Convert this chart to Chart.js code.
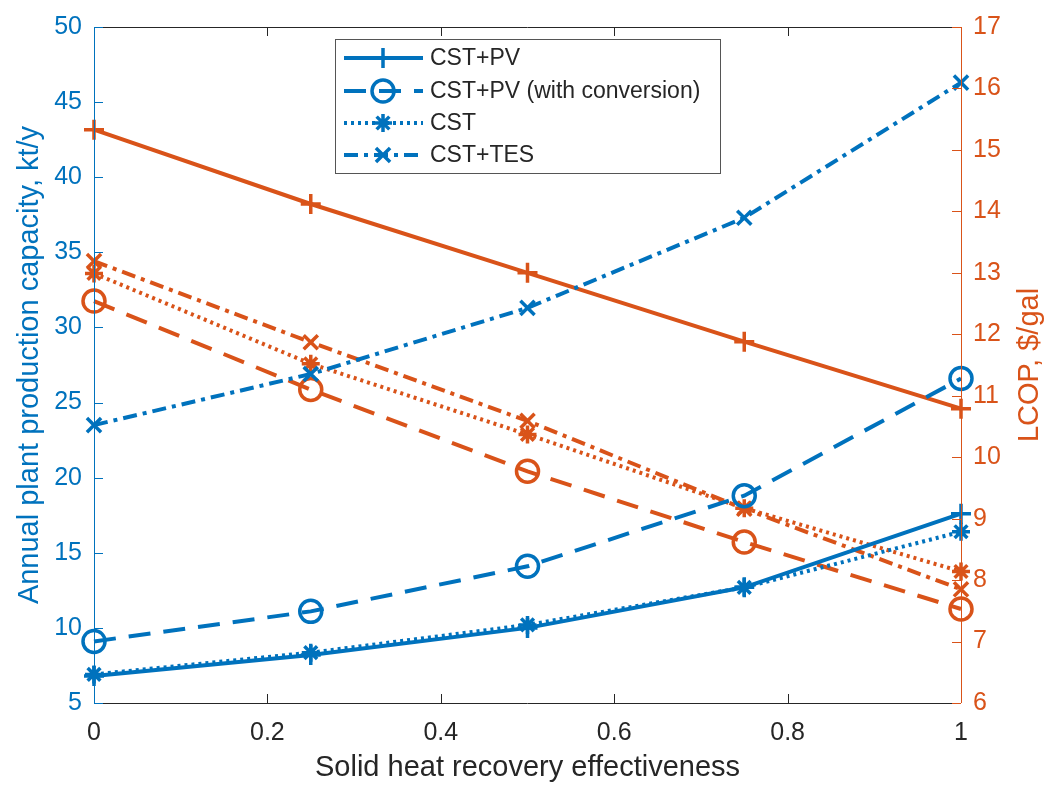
<!DOCTYPE html>
<html>
<head>
<meta charset="utf-8">
<script src="https://cdn.jsdelivr.net/npm/chart.js@4/dist/chart.umd.min.js"></script>
<style>
  body { margin: 0; background: #fff; }
  #wrap { width: 1046px; height: 787px; position: relative; }
</style>
</head>
<body>
<div id="wrap"><canvas id="chart"></canvas></div>
<script>
// --- DATA ---
const effectiveness = [0, 0.25, 0.5, 0.75, 1];
const seriesNames = ["CST+PV", "CST+PV (with conversion)", "CST", "CST+TES"];

// annual plant production capacity, kt/y (left axis)
const capPV     = [6.8, 8.2, 10.0, 12.7, 17.6];
const capPVconv = [9.1, 11.1, 14.1, 18.8, 26.6];
const capCST    = [6.9, 8.35, 10.2, 12.7, 16.4];
const capTES    = [23.5, 26.9, 31.3, 37.3, 46.3];

// LCOP, $/gal (right axis)
const lcopPV     = [15.33, 14.12, 13.0, 11.88, 10.79];
const lcopPVconv = [12.54, 11.1, 9.77, 8.62, 7.53];
const lcopCST    = [12.99, 11.52, 10.37, 9.17, 8.14];
const lcopTES    = [13.19, 11.87, 10.59, 9.16, 7.85];

const leftTicks = [5, 10, 15, 20, 25, 30, 35, 40, 45, 50];
const rightTicks = [6, 7, 8, 9, 10, 11, 12, 13, 14, 15, 16, 17];

const BLUE = "#0072BD";
const ORANGE = "#D95319";
const DARK = "#262626";
const FONT = "'Liberation Sans', Arial, Helvetica, sans-serif";
const RIGHT_TITLE = "LCOP, $/gal";

// line / marker style per series (same order as seriesNames)
const styles = [
  { dash: [], marker: "cross", radius: 10 },
  { dash: [22, 13], marker: "circle", radius: 11 },
  { dash: [3, 4], marker: "star", radius: 9 },
  { dash: [14, 6, 4, 6], marker: "crossRot", radius: 10 }
];

function pts(values) {
  return effectiveness.map((x, i) => ({ x, y: values[i] }));
}

function makeSet(label, values, color, st, axis, inLegend) {
  const hollow = st.marker === "circle";
  return {
    label,
    data: pts(values),
    yAxisID: axis,
    borderColor: color,
    backgroundColor: hollow ? "rgba(0,0,0,0)" : color,
    borderWidth: 4,
    borderDash: st.dash,
    pointStyle: st.marker,
    pointRadius: st.radius,
    pointBorderWidth: 3.5,
    pointBorderColor: color,
    pointBackgroundColor: hollow ? "rgba(0,0,0,0)" : color,
    tension: 0,
    clip: false,
    inLegend
  };
}

const datasets = [
  makeSet(seriesNames[0], capPV, BLUE, styles[0], "y", true),
  makeSet(seriesNames[1], capPVconv, BLUE, styles[1], "y", true),
  makeSet(seriesNames[2], capCST, BLUE, styles[2], "y", true),
  makeSet(seriesNames[3], capTES, BLUE, styles[3], "y", true),
  makeSet(seriesNames[0], lcopPV, ORANGE, styles[0], "y1", false),
  makeSet(seriesNames[1], lcopPVconv, ORANGE, styles[1], "y1", false),
  makeSet(seriesNames[2], lcopCST, ORANGE, styles[2], "y1", false),
  makeSet(seriesNames[3], lcopTES, ORANGE, styles[3], "y1", false)
];

// small marker drawer for the legend
function drawMarker(ctx, style, x, y, r, color) {
  ctx.save();
  ctx.strokeStyle = color;
  ctx.lineWidth = 3.5;
  ctx.setLineDash([]);
  ctx.beginPath();
  if (style === "circle") {
    ctx.arc(x, y, r, 0, Math.PI * 2);
  } else {
    if (style === "cross" || style === "star") {
      ctx.moveTo(x - r, y); ctx.lineTo(x + r, y);
      ctx.moveTo(x, y - r); ctx.lineTo(x, y + r);
    }
    if (style === "crossRot" || style === "star") {
      const d = r * Math.SQRT1_2;
      ctx.moveTo(x - d, y - d); ctx.lineTo(x + d, y + d);
      ctx.moveTo(x - d, y + d); ctx.lineTo(x + d, y - d);
    }
  }
  ctx.stroke();
  ctx.restore();
}

// box + inward ticks, MATLAB style, and the right-hand title reading upward
const framePlugin = {
  id: "frame",
  afterDatasetsDraw(chart) {
    const { ctx, chartArea: a, scales } = chart;
    const tl = 9;
    ctx.save();
    ctx.lineWidth = 1;
    ctx.setLineDash([]);

    ctx.strokeStyle = DARK;
    ctx.beginPath();
    ctx.moveTo(a.left, a.top + 0.5); ctx.lineTo(a.right, a.top + 0.5);
    ctx.moveTo(a.left, a.bottom + 0.5); ctx.lineTo(a.right, a.bottom + 0.5);
    scales.x.ticks.forEach(t => {
      const px = Math.round(scales.x.getPixelForValue(t.value)) + 0.5;
      ctx.moveTo(px, a.bottom); ctx.lineTo(px, a.bottom - tl);
      ctx.moveTo(px, a.top); ctx.lineTo(px, a.top + tl);
    });
    ctx.stroke();

    ctx.strokeStyle = BLUE;
    ctx.beginPath();
    ctx.moveTo(a.left + 0.5, a.top); ctx.lineTo(a.left + 0.5, a.bottom);
    scales.y.ticks.forEach(t => {
      const py = Math.round(scales.y.getPixelForValue(t.value)) + 0.5;
      ctx.moveTo(a.left, py); ctx.lineTo(a.left + tl, py);
    });
    ctx.stroke();

    ctx.strokeStyle = ORANGE;
    ctx.beginPath();
    ctx.moveTo(a.right + 0.5, a.top); ctx.lineTo(a.right + 0.5, a.bottom);
    scales.y1.ticks.forEach(t => {
      const py = Math.round(scales.y1.getPixelForValue(t.value)) + 0.5;
      ctx.moveTo(a.right, py); ctx.lineTo(a.right - tl, py);
    });
    ctx.stroke();

    // right axis title
    ctx.translate(1030, (a.top + a.bottom) / 2);
    ctx.rotate(-Math.PI / 2);
    ctx.fillStyle = ORANGE;
    ctx.font = "29px " + FONT;
    ctx.textAlign = "center";
    ctx.textBaseline = "middle";
    ctx.fillText(RIGHT_TITLE, 0, 0);
    ctx.restore();
  }
};

// legend box inside the axes (blue series only)
const legendPlugin = {
  id: "innerLegend",
  afterDraw(chart) {
    const ctx = chart.ctx;
    const box = { left: 335, top: 39, right: 720, bottom: 173 };
    const rowY = [58, 91, 123, 155];
    ctx.save();
    ctx.fillStyle = "#fff";
    ctx.fillRect(box.left, box.top, box.right - box.left, box.bottom - box.top);
    ctx.strokeStyle = "#555";
    ctx.lineWidth = 1;
    ctx.strokeRect(box.left + 0.5, box.top + 0.5, box.right - box.left, box.bottom - box.top);

    const legendSets = chart.data.datasets.filter(d => d.inLegend);
    legendSets.forEach((ds, i) => {
      const y = rowY[i];
      ctx.strokeStyle = ds.borderColor;
      ctx.lineWidth = 4;
      ctx.setLineDash(ds.borderDash);
      ctx.beginPath();
      ctx.moveTo(344, y); ctx.lineTo(423, y);
      ctx.stroke();
      drawMarker(ctx, ds.pointStyle, 383, y, ds.pointRadius, ds.borderColor);
      ctx.fillStyle = DARK;
      ctx.font = "23px " + FONT;
      ctx.textBaseline = "middle";
      ctx.textAlign = "left";
      ctx.fillText(ds.label, 430, y + 1);
    });
    ctx.restore();
  }
};

new Chart(document.getElementById("chart"), {
  type: "line",
  data: { datasets },
  plugins: [framePlugin, legendPlugin],
  options: {
    responsive: true,
    maintainAspectRatio: false,
    animation: false,
    layout: { padding: { top: 19, left: 0, right: 0, bottom: 0 } },
    plugins: {
      legend: { display: false },
      tooltip: { enabled: false }
    },
    scales: {
      x: {
        type: "linear",
        min: 0,
        max: 1,
        grid: { display: false, drawTicks: false },
        border: { display: false },
        ticks: {
          stepSize: 0.2,
          color: DARK,
          font: { family: FONT, size: 25 },
          padding: 15,
          maxRotation: 0,
          callback: v => String(Math.round(v * 10) / 10)
        },
        title: {
          display: true,
          text: "Solid heat recovery effectiveness",
          color: DARK,
          font: { family: FONT, size: 29 },
          padding: { top: 0, bottom: 2 }
        },
        afterFit(scale) { scale.height = 84; }
      },
      y: {
        type: "linear",
        position: "left",
        min: 5,
        max: 50,
        grid: { display: false, drawTicks: false },
        border: { display: false },
        afterBuildTicks(scale) { scale.ticks = leftTicks.map(v => ({ value: v })); },
        ticks: {
          color: BLUE,
          font: { family: FONT, size: 25 },
          padding: 12
        },
        title: {
          display: true,
          text: "Annual plant production capacity, kt/y",
          color: BLUE,
          font: { family: FONT, size: 29 },
          padding: { top: 13, bottom: 0 }
        },
        afterFit(scale) { scale.width = 94; }
      },
      y1: {
        type: "linear",
        position: "right",
        min: 6,
        max: 17,
        grid: { display: false, drawTicks: false },
        border: { display: false },
        afterBuildTicks(scale) { scale.ticks = rightTicks.map(v => ({ value: v })); },
        ticks: {
          color: ORANGE,
          font: { family: FONT, size: 25 },
          padding: 12
        },
        afterFit(scale) { scale.width = 85; }
      }
    }
  }
});
</script>
</body>
</html>
